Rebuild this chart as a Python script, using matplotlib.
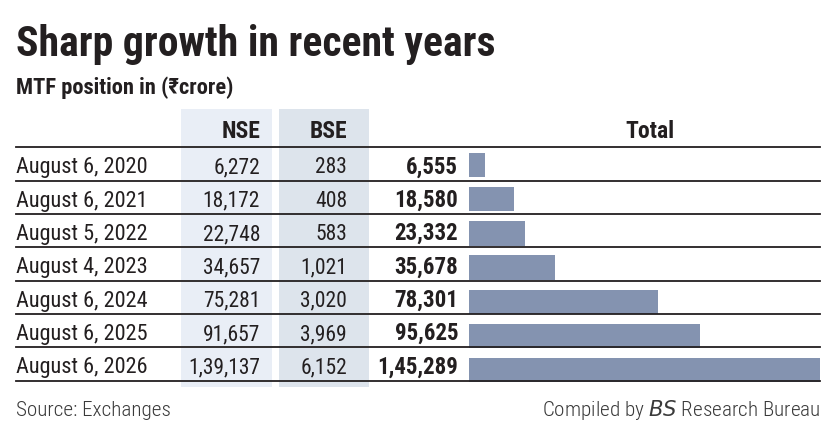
import matplotlib
matplotlib.use("Agg")
import matplotlib.pyplot as plt
from matplotlib import font_manager as fm
from matplotlib.patches import Rectangle

# ---- data ----
dates = ["August 6, 2020", "August 6, 2021", "August 5, 2022", "August 4, 2023",
         "August 6, 2024", "August 6, 2025", "August 6, 2026"]
nse = [6272, 18172, 22748, 34657, 75281, 91657, 139137]
bse = [283, 408, 583, 1021, 3020, 3969, 6152]
total = [6555, 18580, 23332, 35678, 78301, 95625, 145289]
col_headers = ["NSE", "BSE", "Total"]
title = "Sharp growth in recent years"
subtitle = "MTF position in (₹crore)"
source = "Source: Exchanges"


def indian(n):
    s = str(n)
    if len(s) <= 3:
        return s
    head, tail = s[:-3], s[-3:]
    parts = []
    while len(head) > 2:
        parts.insert(0, head[-2:])
        head = head[:-2]
    if head:
        parts.insert(0, head)
    return ",".join(parts + [tail])


avail = {f.name for f in fm.fontManager.ttflist}
fam = None
for cand in ["Roboto Condensed", "Liberation Sans Narrow", "Open Sans Condensed", "Lato", "Roboto"]:
    if cand in avail:
        fam = cand
        break
plt.rcParams["font.family"] = [fam, "DejaVu Sans"]

W, H = 830, 427
fig = plt.figure(figsize=(W / 100, H / 100), dpi=100)
fig.patch.set_facecolor("white")


def fx(x):
    return x / W


def fy(y):
    return 1 - y / H


TXT = "#231f20"
# title
fig.text(fx(16), fy(56), title, fontsize=30, fontweight="bold", color=TXT, va="baseline", ha="left")
fig.text(fx(16), fy(94), subtitle, fontsize=16.2, fontweight="bold", color=TXT, va="baseline", ha="left")

# column shading
fig.patches.append(Rectangle((fx(181), fy(388)), fx(272) - fx(181), fy(110) - fy(388),
                             transform=fig.transFigure, facecolor="#e9eef6", edgecolor="none", zorder=0))
fig.patches.append(Rectangle((fx(279), fy(388)), fx(369) - fx(279), fy(110) - fy(388),
                             transform=fig.transFigure, facecolor="#dde4ec", edgecolor="none", zorder=0))

# headers
fig.text(fx(260), fy(138), col_headers[0], fontsize=17, fontweight="bold", color=TXT, ha="right", va="baseline")
fig.text(fx(347), fy(138), col_headers[1], fontsize=17, fontweight="bold", color=TXT, ha="right", va="baseline")
fig.text(fx(650), fy(138), col_headers[2], fontsize=17, fontweight="bold", color=TXT, ha="center", va="baseline")

top = 148.3
rh = 33.34
n = len(dates)

# bars axes (bars have their own slightly larger pitch)
btop = 149.0
bpitch = 34.17
ax = fig.add_axes([fx(469), fy(btop + bpitch * n), fx(820) - fx(469), (bpitch * n) / H])
ax.set_xlim(0, max(total))
ax.set_ylim(n, 0)
ax.barh([i + 0.5 for i in range(n)], total, height=0.714, left=0, color="#8493b0", zorder=2)
ax.axis("off")
ax.patch.set_alpha(0)

# row lines
for k in range(n + 1):
    y = top + rh * k
    fig.add_artist(plt.Line2D([fx(16), fx(820)], [fy(y), fy(y)], transform=fig.transFigure,
                              color="#231f20", lw=1.3, zorder=3))

fs = 16
for i in range(n):
    yb = top + rh * i + 25
    fig.text(fx(16), fy(yb), dates[i], fontsize=fs, color=TXT, ha="left", va="baseline")
    fig.text(fx(260), fy(yb), indian(nse[i]), fontsize=15.5, color=TXT, ha="right", va="baseline")
    fig.text(fx(347), fy(yb), indian(bse[i]), fontsize=15.5, color=TXT, ha="right", va="baseline")
    fig.text(fx(458), fy(yb), indian(total[i]), fontsize=16.5, fontweight="bold", color=TXT, ha="right", va="baseline")

# footer
fig.text(fx(16), fy(416), source, fontsize=15.2, fontweight="light", color="#3a3a3a", ha="left", va="baseline")
fig.text(fx(820), fy(416), r"Compiled by $\it{BS}$ Research Bureau", fontsize=15.2, fontweight="light",
         color="#3a3a3a", ha="right", va="baseline")

fig.savefig("out.png", dpi=100, facecolor="white")
